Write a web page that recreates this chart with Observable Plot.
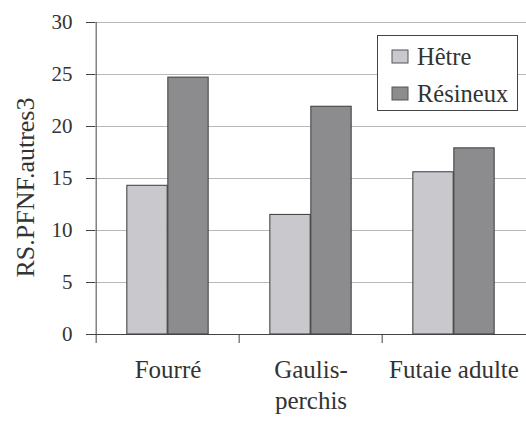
<!DOCTYPE html>
<html>
<head>
<meta charset="utf-8">
<script src="https://cdn.jsdelivr.net/npm/d3@7"></script>
<script src="https://cdn.jsdelivr.net/npm/@observablehq/plot@0.6"></script>
<style>
  html, body { margin: 0; padding: 0; background: #fff; }
  #wrap { position: relative; width: 526px; height: 421px; }
  #wrap svg, #wrap svg text, #legend, #legend * { font-family: "Liberation Serif", serif !important; }
  #legend {
    position: absolute; left: 377px; top: 35px; width: 141px; height: 76px;
    box-sizing: border-box; border: 1px solid #444; background: #fff;
    padding: 2px 0 0 14px;
  }
  #legend .leg-swatches { margin: 0 !important; font-size: 24.5px !important; color: #333 !important; }
  #legend div.leg-swatch { height: 37px; padding: 0 !important; display: flex; align-items: center; }
  #legend div.leg-swatch > svg { margin-right: 9px !important; overflow: visible; }
  #legend div.leg-swatch > svg rect { stroke: #555; stroke-width: 1; }
</style>
</head>
<body>
<div id="wrap"></div>
<script>
const categories = ["Fourré", "Gaulis-\nperchis", "Futaie adulte"];
const series = ["Hêtre", "Résineux"];
const hetre = [14.3, 11.5, 15.6];
const resineux = [24.7, 21.9, 17.9];
const yTicks = [0, 5, 10, 15, 20, 25, 30];
const yLabel = "RS.PFNF.autres3";
const colors = ["#c8c8cd", "#8c8c8e"];

const rows = [];
categories.forEach((c, i) => {
  rows.push({category: c, series: series[0], value: hetre[i]});
  rows.push({category: c, series: series[1], value: resineux[i]});
});

const W = 526, H = 421, ML = 95, MR = 0, MT = 22, MB = 87;
const bw = (W - ML - MR) / categories.length;
const barW = 41;
const ink = "#333";
const serif = "Liberation Serif, serif";

const chart = Plot.plot({
  width: W, height: H,
  marginLeft: ML, marginRight: MR, marginTop: MT, marginBottom: MB,
  style: {fontFamily: serif, fontSize: "21px", color: ink, background: "#fff", overflow: "visible"},
  x: {domain: categories, padding: 0, label: null},
  y: {domain: [0, 30], label: null},
  color: {domain: series, range: colors},
  marks: [
    Plot.gridY(yTicks, {stroke: "#b8b8b8", strokeOpacity: 1}),
    Plot.barY(rows.filter(d => d.series === series[0]), {
      x: "category", y: "value", fill: "series", stroke: "#3a3a3a", strokeWidth: 1,
      insetLeft: bw / 2 - barW, insetRight: bw / 2
    }),
    Plot.barY(rows.filter(d => d.series === series[1]), {
      x: "category", y: "value", fill: "series", stroke: "#3a3a3a", strokeWidth: 1,
      insetLeft: bw / 2, insetRight: bw / 2 - barW
    }),
    Plot.ruleY([0], {stroke: "#444"}),
    Plot.ruleX([categories[0]], {x: d => d, y1: 30, y2: 0, dx: -bw / 2, insetBottom: -9, stroke: "#444"}),
    Plot.ruleX(categories.slice(1), {x: d => d, y1: 0, y2: 0, dx: -bw / 2, insetBottom: -9, stroke: "#444"}),
    Plot.axisY(yTicks, {tickSize: 9, tickPadding: 14, fontSize: 21, fontFamily: serif, label: null, stroke: "#444"}),
    Plot.axisX({tickSize: 0, tickPadding: 21, fontSize: 25, fontFamily: serif, lineHeight: 1.24, label: null}),
    Plot.text([yLabel], {text: d => d, frameAnchor: "left", textAnchor: "middle", rotate: -90, dx: -70, dy: 9, lineAnchor: "middle", fontSize: 26, fontFamily: serif, fill: ink})
  ]
});

const wrap = document.getElementById("wrap");
wrap.appendChild(chart);
const legendBox = document.createElement("div");
legendBox.id = "legend";
const leg = chart.legend("color", {
  columns: 1, swatchWidth: 16, swatchHeight: 13, className: "leg",
  style: {fontFamily: serif, fontSize: "24.5px", color: ink, margin: "0"}
});
legendBox.appendChild(leg);
wrap.appendChild(legendBox);
</script>
</body>
</html>
